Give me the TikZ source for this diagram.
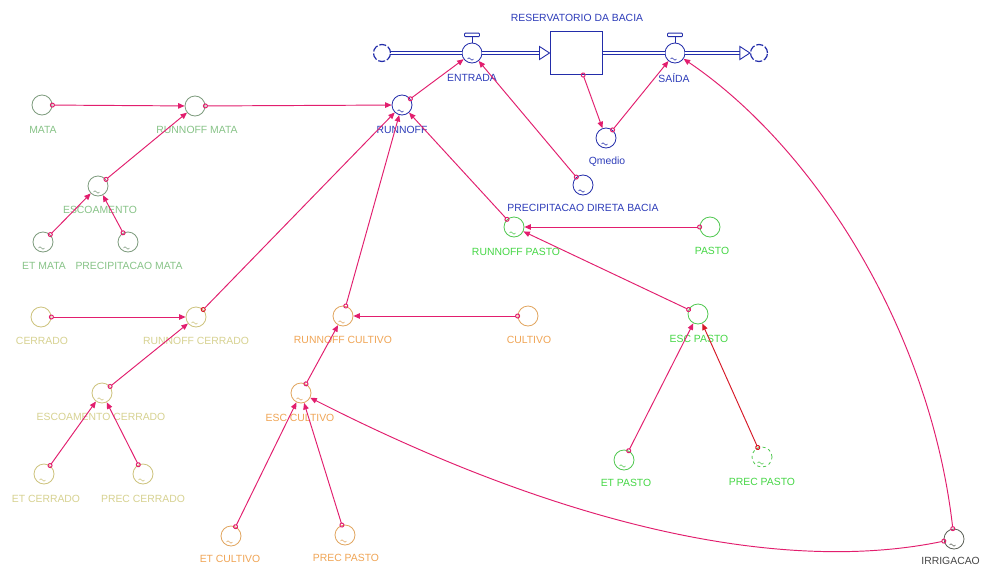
\documentclass[tikz,border=0pt]{standalone}
\usepackage{fontspec}
\setmainfont{Liberation Sans}
\usetikzlibrary{arrows.meta}
\definecolor{cn}{RGB}{226,30,110}
\definecolor{cnred}{RGB}{215,25,40}
\definecolor{fblue}{RGB}{35,45,170}
\definecolor{tblue}{RGB}{45,60,185}
\definecolor{mataC}{RGB}{125,155,125}
\definecolor{mataT}{RGB}{135,195,135}
\definecolor{pastoC}{RGB}{80,200,80}
\definecolor{pastoT}{RGB}{70,215,70}
\definecolor{cerC}{RGB}{205,195,125}
\definecolor{cerT}{RGB}{215,210,145}
\definecolor{culC}{RGB}{225,165,95}
\definecolor{culT}{RGB}{240,165,85}
\definecolor{irrC}{RGB}{90,95,85}
\definecolor{irrT}{RGB}{70,70,70}
\newcommand\mytld[2]{\draw[#2,line width=0.5pt] ([shift={(-4.5,6)}]#1.center) sin ++(1.5,-1.2) cos ++(1.5,1.2) sin ++(1.5,1.2) cos ++(1.5,-1.2);}
\begin{document}
\begin{tikzpicture}[x=1pt,y=-1pt,
  aux/.style={circle,draw,minimum size=20pt,inner sep=0pt,line width=0.8pt},
  lab/.style={inner sep=0pt,font=\fontsize{10.4}{12}\selectfont},
  link/.style={draw=cn,line width=0.95pt,{Circle[open,length=5pt,width=5pt,line width=1pt]}-{Triangle[length=6.5pt,width=5.5pt]},shorten <=-2.5pt},
  pipe/.style={draw=fblue,line width=1pt,double=white,double distance=2.4pt},
  cloud/.style={circle,draw=fblue,minimum size=17pt,inner sep=0pt,line width=1.2pt,dash pattern=on 7pt off 2pt},
  flowtri/.style={draw=fblue,fill=white,line width=0.9pt,line join=miter}
]
\useasboundingbox (0,0) rectangle (982,565);
\fill[white] (0,0) rectangle (982,565);

% ---------- stock and flows ----------
\node[draw=fblue,line width=1pt,minimum width=52pt,minimum height=43pt,inner sep=0pt] (stock) at (576,53) {};
\node[lab,text=tblue] (stockl) at (577,18) {RESERVATORIO DA BACIA};
\node[cloud] (cl) at (382,53) {};
\node[cloud] (cr) at (759,53) {};
\node[aux,draw=fblue] (entrada) at (472,53) {};
\node[lab,text=tblue] (entradal) at (472,78) {ENTRADA};
\node[aux,draw=fblue] (saida) at (675,53) {};
\node[lab,text=tblue] (saidal) at (674,78) {SAÍDA};
\foreach \v in {entrada,saida}{
  \draw[fblue,line width=0.9pt] (\v.north) -- ++(0,-6);
  \draw[fblue,line width=0.9pt,fill=white,rounded corners=0.8pt] ([shift={(-7.5,-9.5)}]\v.north) rectangle ([shift={(7.5,-6)}]\v.north);
}
\draw[pipe] (cl.east) -- (entrada.west);
\draw[pipe] (entrada.east) -- ([xshift=-10]stock.west);
\draw[flowtri] ([shift={(-10,-6.5)}]stock.west) -- (stock.west) -- ([shift={(-10,6.5)}]stock.west) -- cycle;
\draw[pipe] (stock.east) -- (saida.west);
\draw[pipe] (saida.east) -- ([xshift=-10]cr.west);
\draw[flowtri] ([shift={(-10,-6.5)}]cr.west) -- (cr.west) -- ([shift={(-10,6.5)}]cr.west) -- cycle;

% ---------- blue auxiliaries ----------
\node[aux,draw=fblue] (run) at (402,105) {};
\node[lab,text=tblue] (runl) at (402,130) {RUNNOFF};
\node[aux,draw=fblue] (qm) at (606,138) {};
\node[lab,text=tblue] (qml) at (607,162) {Qmedio};
\node[aux,draw=fblue] (pdb) at (583,185) {};
\node[lab,text=tblue] (pdbl) at (583,208) {PRECIPITACAO DIRETA BACIA};

% ---------- mata ----------
\node[aux,draw=mataC] (mata) at (42,105) {};
\node[lab,text=mataT] (matal) at (43,130) {MATA};
\node[aux,draw=mataC] (rmata) at (195,106) {};
\node[lab,text=mataT] (rmatal) at (197,130) {RUNNOFF MATA};
\node[aux,draw=mataC] (esc) at (98,186) {};
\node[lab,text=mataT] (escl) at (100,210) {ESCOAMENTO};
\node[aux,draw=mataC] (etm) at (43,242) {};
\node[lab,text=mataT] (etml) at (44,266) {ET MATA};
\node[aux,draw=mataC] (pm) at (128,242) {};
\node[lab,text=mataT] (pml) at (129,266) {PRECIPITACAO MATA};

% ---------- cerrado ----------
\node[aux,draw=cerC] (cer) at (41,317) {};
\node[lab,text=cerT] (cerl) at (42,341) {CERRADO};
\node[aux,draw=cerC] (rcer) at (196,317) {};
\node[lab,text=cerT] (rcerl) at (196,341) {RUNNOFF CERRADO};
\node[aux,draw=cerC] (escc) at (102,393) {};
\node[lab,text=cerT] (esccl) at (101,417) {ESCOAMENTO CERRADO};
\node[aux,draw=cerC] (etc) at (44,474) {};
\node[lab,text=cerT] (etcl) at (46,499) {ET CERRADO};
\node[aux,draw=cerC] (pcer) at (143,474) {};
\node[lab,text=cerT] (pcerl) at (143,499) {PREC CERRADO};

% ---------- cultivo ----------
\node[aux,draw=culC] (rcul) at (343,316) {};
\node[lab,text=culT] (rcull) at (343,340) {RUNNOFF CULTIVO};
\node[aux,draw=culC] (cul) at (528,316) {};
\node[lab,text=culT] (cull) at (529,340) {CULTIVO};
\node[aux,draw=culC] (escu) at (301,393) {};
\node[lab,text=culT] (escul) at (300,418) {ESC CULTIVO};
\node[aux,draw=culC] (etcu) at (231,536) {};
\node[lab,text=culT] (etcul) at (230,559) {ET CULTIVO};
\node[aux,draw=culC] (pcu) at (345,535) {};
\node[lab,text=culT] (pcul) at (346,558) {PREC PASTO};

% ---------- pasto ----------
\node[aux,draw=pastoC] (rpas) at (514,227) {};
\node[lab,text=pastoT] (rpasl) at (516,252) {RUNNOFF PASTO};
\node[aux,draw=pastoC] (pas) at (710,227) {};
\node[lab,text=pastoT] (pasl) at (712,251) {PASTO};
\node[aux,draw=pastoC] (escp) at (698,314) {};
\node[lab,text=pastoT] (escpl) at (699,339) {ESC PASTO};
\node[aux,draw=pastoC] (etp) at (624,460) {};
\node[lab,text=pastoT] (etpl) at (626,483) {ET PASTO};
\node[aux,draw=pastoC,dashed] (pp) at (762,457) {};
\node[lab,text=pastoT] (ppl) at (762,482) {PREC PASTO};

% ---------- irrigacao ----------
\node[aux,draw=irrC] (irr) at (954,539) {};
\node[lab,text=irrT,anchor=east] (irrl) at (980,561) {IRRIGACAO};

% ---------- tildes ----------
\foreach \n in {run,qm,pdb,entrada,saida}{\mytld{\n}{fblue}}
\foreach \n in {esc,etm,pm}{\mytld{\n}{mataC}}
\foreach \n in {rcer,escc,etc,pcer}{\mytld{\n}{cerC}}
\foreach \n in {rcul,escu,etcu,pcu}{\mytld{\n}{culC}}
\foreach \n in {rpas,etp,pp}{\mytld{\n}{pastoC}}
\mytld{irr}{irrC}

% ---------- connectors ----------
\draw[link] (mata) -- (rmata);
\draw[link] (rmata) -- (run);
\draw[link] (esc) -- (rmata);
\draw[link] (etm) -- (esc);
\draw[link] (pm) -- (esc);
\draw[link] (cer) -- (rcer);
\draw[draw=cn,line width=0.95pt,{Circle[open,length=5pt,width=5pt,line width=1pt,color=cnred]}-{Triangle[length=6.5pt,width=5.5pt]},shorten <=-2.5pt] (rcer) -- (run);
\draw[link] (escc) -- (rcer);
\draw[link] (etc) -- (escc);
\draw[link] (pcer) -- (escc);
\draw[link] (cul) -- (rcul);
\draw[link] (rcul) -- (run);
\draw[link] (escu) -- (rcul);
\draw[link] (etcu) -- (escu);
\draw[link] (pcu) -- (escu);
\draw[link] (irr) .. controls (780,575) and (560,525) .. (escu);
\draw[link] (irr) .. controls (930,330) and (815,148) .. (saida);
\draw[link] (pas) -- (rpas);
\draw[link] (escp) -- (rpas);
\draw[link] (etp) -- (escp);
\draw[link,draw=cnred] (pp) -- (escp);
\draw[link] (rpas) -- (run);
\draw[link] (run) -- (entrada);
\draw[link] (pdb) -- (entrada);
\draw[link] (stock.-72) -- (qm);
\draw[link] (qm) -- (saida);
\end{tikzpicture}
\end{document}
